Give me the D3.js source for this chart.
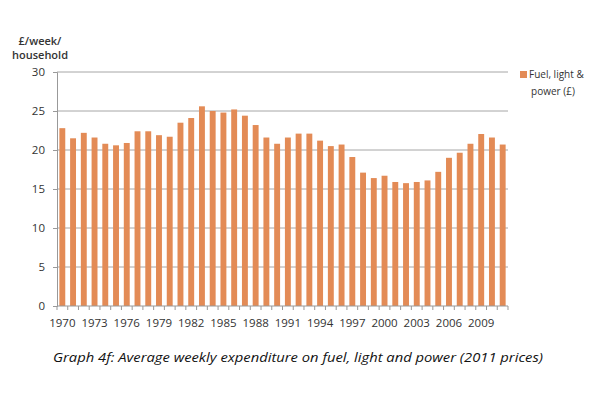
<!DOCTYPE html>
<html>
<head>
<meta charset="utf-8">
<script src="https://cdn.jsdelivr.net/npm/d3@7"></script>
<style>
  body { margin: 0; background: #fff; }
  svg text { font-family: "Open Sans", "Liberation Sans", sans-serif; fill: #333; }
</style>
</head>
<body>
<div id="chart-area"><svg></svg></div>
<script>
const years = d3.range(1970, 2012).map(String);
const spending = [
  22.8, 21.5, 22.2, 21.6, 20.8, 20.6, 20.9, 22.4, 22.4, 21.9,
  21.7, 23.5, 24.1, 25.6, 25.0, 24.8, 25.2, 24.4, 23.2, 21.6,
  20.8, 21.6, 22.1, 22.1, 21.2, 20.5, 20.7, 19.1, 17.1, 16.4,
  16.7, 15.9, 15.75, 15.9, 16.1, 17.2, 19.0, 19.65, 20.8, 22.05,
  21.6, 20.7
];
const yTicks = [0, 5, 10, 15, 20, 25, 30];
const labelYears = years.filter((y, i) => i % 3 === 0);
const seriesName = ["Fuel, light &", "power (£)"];
const caption = "Graph 4f: Average weekly expenditure on fuel, light and power (2011 prices)";

const chartSize = { width: 600, height: 400 };
const margin = { left: 57, right: 92, top: 72, bottom: 94 };
const width = chartSize.width - (margin.left + margin.right);
const height = chartSize.height - (margin.top + margin.bottom);
const barColour = "#E38B56";

const svg = d3.select("#chart-area svg")
  .attr("width", chartSize.width)
  .attr("height", chartSize.height);

const g = svg.append("g")
  .attr("transform", `translate(${margin.left}, ${margin.top})`);

const xScale = d3.scaleBand().domain(years).range([0, width]).paddingInner(0.45).paddingOuter(0.22);
const yScale = d3.scaleLinear().domain([0, 30]).range([height, 0]);

// gridlines
g.selectAll(".grid")
  .data(yTicks.slice(1))
  .enter()
  .append("line")
  .attr("x1", 0)
  .attr("x2", width)
  .attr("y1", d => yScale(d))
  .attr("y2", d => yScale(d))
  .attr("stroke", "#a6a6a6")
  .attr("stroke-width", 1);

// y axis
const yAxis = d3.axisLeft(yScale).tickValues(yTicks).tickSize(4).tickPadding(8);
const yG = g.append("g").call(yAxis);
yG.select(".domain").attr("stroke", "#999");
yG.selectAll(".tick line").attr("stroke", "#999");
yG.selectAll("text").attr("font-size", 11.5).style("font-family", "'Open Sans', sans-serif").attr("fill", "#333");

// bars
g.selectAll("rect")
  .data(spending)
  .enter()
  .append("rect")
  .attr("x", (d, i) => xScale(years[i]))
  .attr("y", d => yScale(d))
  .attr("width", xScale.bandwidth())
  .attr("height", d => yScale(0) - yScale(d))
  .attr("fill", barColour);

// x axis line and minor ticks at category boundaries
g.append("line")
  .attr("x1", 0).attr("x2", width)
  .attr("y1", height).attr("y2", height)
  .attr("stroke", "#999");

g.selectAll(".xtick")
  .data(d3.range(years.length + 1))
  .enter()
  .append("line")
  .attr("x1", i => i * (width / years.length))
  .attr("x2", i => i * (width / years.length))
  .attr("y1", height)
  .attr("y2", height + 4)
  .attr("stroke", "#999");

g.selectAll(".xlabel")
  .data(labelYears)
  .enter()
  .append("text")
  .attr("x", d => xScale(d) + xScale.bandwidth() / 2)
  .attr("y", height + 21)
  .attr("text-anchor", "middle")
  .attr("font-size", 11.5)
  .text(d => d);

// y axis title
svg.append("text")
  .attr("x", 40).attr("y", 45)
  .attr("text-anchor", "middle")
  .attr("font-size", 11)
  .attr("font-weight", 600)
  .text("£/week/");
svg.append("text")
  .attr("x", 40).attr("y", 59)
  .attr("text-anchor", "middle")
  .attr("font-size", 11)
  .attr("font-weight", 600)
  .text("household");

// legend
svg.append("rect")
  .attr("x", 520).attr("y", 71)
  .attr("width", 7).attr("height", 7)
  .attr("fill", barColour);
svg.append("text")
  .attr("x", 529).attr("y", 78)
  .attr("font-size", 10)
  .text(seriesName[0]);
svg.append("text")
  .attr("x", 553).attr("y", 95)
  .attr("text-anchor", "middle")
  .attr("font-size", 10)
  .text(seriesName[1]);

// caption
svg.append("text")
  .attr("x", 53).attr("y", 362)
  .attr("font-size", 13)
  .attr("font-style", "italic")
  .attr("textLength", 490)
  .attr("lengthAdjust", "spacingAndGlyphs")
  .style("fill", "#111")
  .text(caption);
</script>
</body>
</html>
